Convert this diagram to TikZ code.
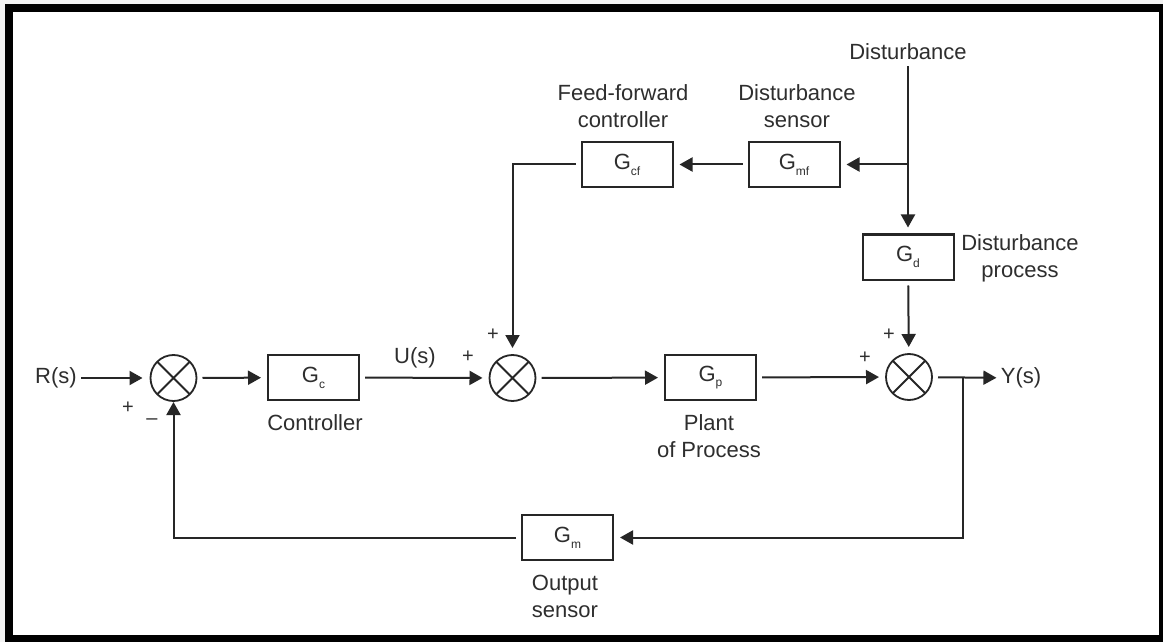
\documentclass[tikz,border=0pt]{standalone}
\usepackage{fontspec}
\setmainfont{Liberation Sans}
\usetikzlibrary{arrows.meta}
\definecolor{ink}{HTML}{262626}
\definecolor{txt}{HTML}{2e2e2e}
\tikzset{
  blk/.style={draw=ink, line width=1pt, minimum width=45.5pt, minimum height=22.5pt,
              inner sep=0pt, outer sep=0pt, text=txt, font=\fontsize{11}{13}\selectfont},
  sumj/.style={circle, draw=ink, line width=0.9pt, minimum size=23pt, inner sep=0pt, outer sep=0pt},
  lbl/.style={text=txt, font=\fontsize{11}{13.5}\selectfont, align=center, inner sep=0pt},
  sgn/.style={text=txt, font=\fontsize{10}{11}\selectfont, inner sep=0pt},
  sig/.style={draw=ink, line width=1pt, -{Triangle[length=6.5pt,width=7pt]},
              shorten <=3pt, shorten >=3.5pt},
}
\newcommand{\gsub}[1]{G\raisebox{-0.5ex}{\fontsize{6}{6}\selectfont #1}}
\newcommand{\xsum}[1]{\draw[ink, line width=0.9pt] (#1.north east) -- (#1.south west) (#1.north west) -- (#1.south east);}
\begin{document}
\begin{tikzpicture}[x=0.5pt,y=-0.5pt]
\useasboundingbox (0,0) rectangle (1163,642);
% frame
\fill[gray!10] (0,0) rectangle (1163,642);
\fill[black] (5,4) rectangle (1163,642);
\fill[white] (13,12) rectangle (1159,635);

% summing junctions
\node[sumj] (s1) at (173.5,378) {};
\node[sumj] (s2) at (512.5,378) {};
\node[sumj] (s3) at (909,377) {};
\xsum{s1}\xsum{s2}\xsum{s3}

% blocks
\node[blk] (gc)  at (313.5,377.5) {\gsub{c}};
\node[blk] (gp)  at (710.5,377.5) {\gsub{p}};
\node[blk] (gd)  at (908,257)     {\gsub{d}};
\node[blk] (gmf) at (794,164.5)   {\gsub{mf}};
\node[blk] (gcf) at (627,164.5)   {\gsub{cf}};
\node[blk] (gm)  at (567.5,537.5) {\gsub{m}};

% signal and block labels
\node[lbl] (r)    at (56,378)     {R(s)};
\node[lbl] (y)    at (1021,378)   {Y(s)};
\node[lbl] (u)    at (415,358)    {U(s)};
\node[lbl] (dist) at (908,52)     {Disturbance};
\node[lbl] (lctl) at (315,423)    {Controller};
\node[lbl] (lpl)  at (709,436.5)  {Plant\\of Process};
\node[lbl] (lout) at (565,596.5)  {Output\\sensor};
\node[lbl] (lff)  at (623,106.5)  {Feed-forward\\controller};
\node[lbl] (lds)  at (797,106.5)  {Disturbance\\sensor};
\node[lbl] (ldp)  at (1020,258.5) {Disturbance\\process};

% signs
\node[sgn] (p1)  at (128,408) {+};
\node[sgn] (m1)  at (152,422) {\textendash};
\node[sgn] (p2a) at (468,357) {+};
\node[sgn] (p2b) at (493,335) {+};
\node[sgn] (p3a) at (865,358) {+};
\node[sgn] (p3b) at (889,335) {+};

% forward path
\draw[sig, shorten <=2pt, shorten >=4pt] (r) -- (s1);
\draw[sig] (s1) -- (gc);
\draw[sig] (gc) -- (s2);
\draw[sig] (s2) -- (gp);
\draw[sig] (gp) -- (s3);
\draw[sig, shorten >=2pt] (s3) -- (y);

% disturbance and feed-forward path
\coordinate (br) at (908,164.5);
\draw[sig] (dist) -- (gd);
\draw[sig] (gd) -- (s3);
\draw[sig, shorten <=0pt] (br) -- (gmf);
\draw[sig] (gmf) -- (gcf);
\draw[sig] (gcf.west) -| (s2);

% feedback path
\coordinate (tap) at (963,378);
\draw[sig, shorten <=0pt] (tap) |- (gm);
\draw[sig, shorten >=0.5pt] (gm) -| (s1);
\end{tikzpicture}
\end{document}
